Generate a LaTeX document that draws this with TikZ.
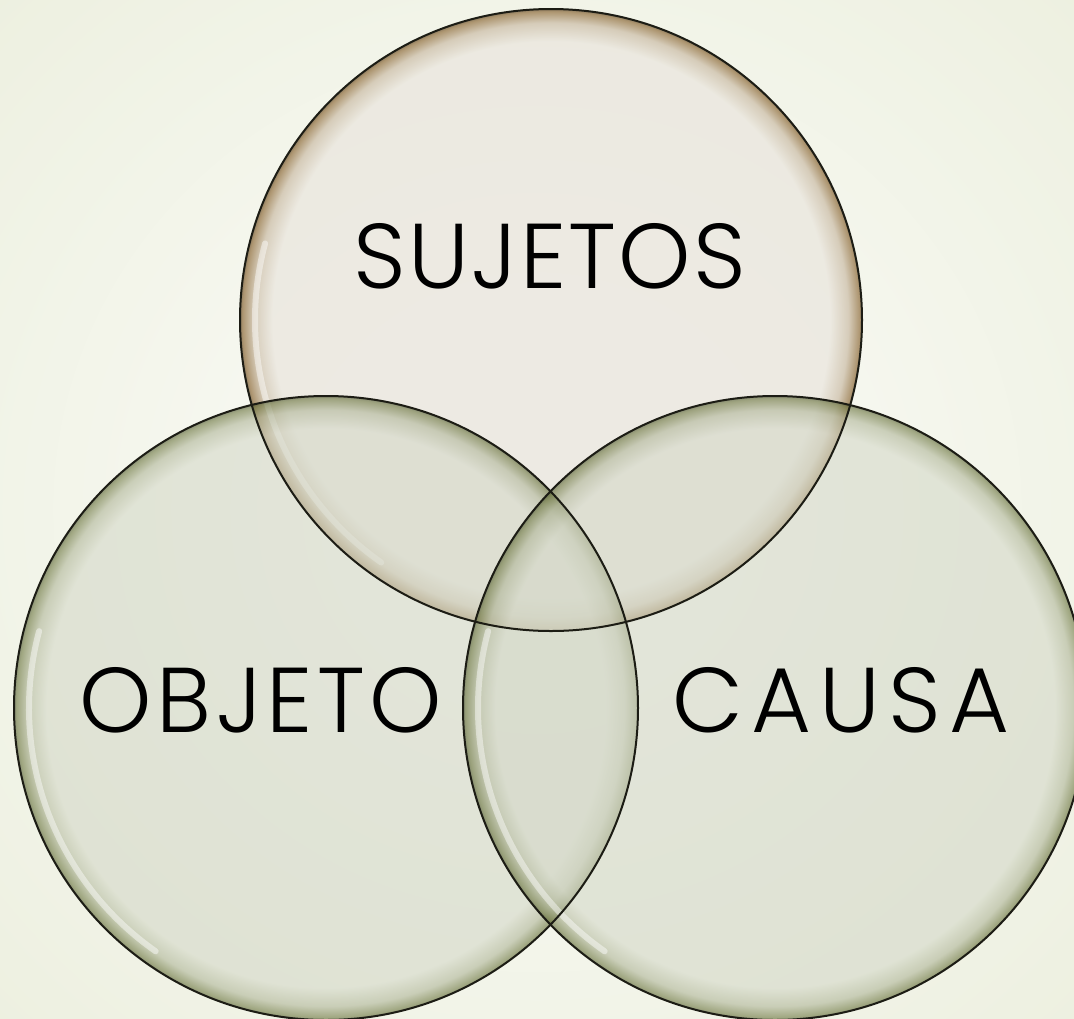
\documentclass[tikz,border=0pt]{standalone}
\usepackage{fontspec}
\setmainfont{Poppins}[UprightFont={* Light}]
\definecolor{bgin}{RGB}{248,249,243}
\definecolor{bgout}{RGB}{237,240,224}
\definecolor{topfill}{RGB}{234,230,222}
\definecolor{toprim}{RGB}{150,118,72}
\definecolor{toprimd}{RGB}{110,85,50}
\definecolor{grfill}{RGB}{212,216,200}
\definecolor{grrim}{RGB}{105,115,60}
\definecolor{grrimd}{RGB}{70,80,40}
\definecolor{outl}{RGB}{28,28,20}
\pgfdeclareradialshading{bgsh}{\pgfpoint{0bp}{0bp}}{color(0bp)=(bgin); color(8bp)=(bgin); color(30bp)=(bgout); color(50bp)=(bgout)}
\pgfdeclareradialshading{topsh}{\pgfpoint{0bp}{0bp}}{color(0bp)=(topfill); color(22.4bp)=(topfill); color(23.9bp)=(toprim!35!topfill); color(24.8bp)=(toprim); color(25bp)=(toprimd); color(50bp)=(toprimd)}
\pgfdeclareradialshading{grsh}{\pgfpoint{0bp}{0bp}}{color(0bp)=(grfill); color(22.4bp)=(grfill); color(23.9bp)=(grrim!35!grfill); color(24.8bp)=(grrim); color(25bp)=(grrimd); color(50bp)=(grrimd)}
\tikzset{
  bubble/.style={circle, minimum size=#1, inner sep=0pt},
  label/.style={font=\fontsize{92}{92}\selectfont, text=black},
  rimline/.style={draw=outl, line width=2pt},
  gloss/.style={white, line width=6pt, opacity=0.45, line cap=round}
}
\begin{document}
\begin{tikzpicture}[x=1pt,y=-1pt]
\path[use as bounding box] (0,0) rectangle (1074,1018);
\begin{scope}
\clip (0,0) rectangle (1074,1018);
\shade[shading=bgsh] (-100,-100) rectangle (1174,1118);
\end{scope}
% circles
\node[bubble=622pt, shading=topsh, opacity=0.75] (top) at (551,320) {};
\draw[gloss] (551,320) ++(125:296) arc[start angle=125, end angle=195, radius=296];
\node[bubble=624pt, shading=grsh, opacity=0.6] (left) at (326,708) {};
\draw[gloss] (326,708) ++(125:297) arc[start angle=125, end angle=195, radius=297];
\node[bubble=624pt, shading=grsh, opacity=0.6] (right) at (775,708) {};
\draw[gloss] (775,708) ++(125:297) arc[start angle=125, end angle=195, radius=297];
\draw[rimline] (551,320) circle[radius=311];
\draw[rimline] (326,708) circle[radius=312];
\draw[rimline] (775,708) circle[radius=312];
% labels
\node[label] (sujetos) at (550,256) {\addfontfeatures{LetterSpace=2.5}SUJETOS};
\node[label] (objeto) at (261,700) {\addfontfeatures{LetterSpace=5}OBJETO};
\node[label] (causa) at (841,700) {\addfontfeatures{LetterSpace=9}CAUSA};
\end{tikzpicture}
\end{document}
